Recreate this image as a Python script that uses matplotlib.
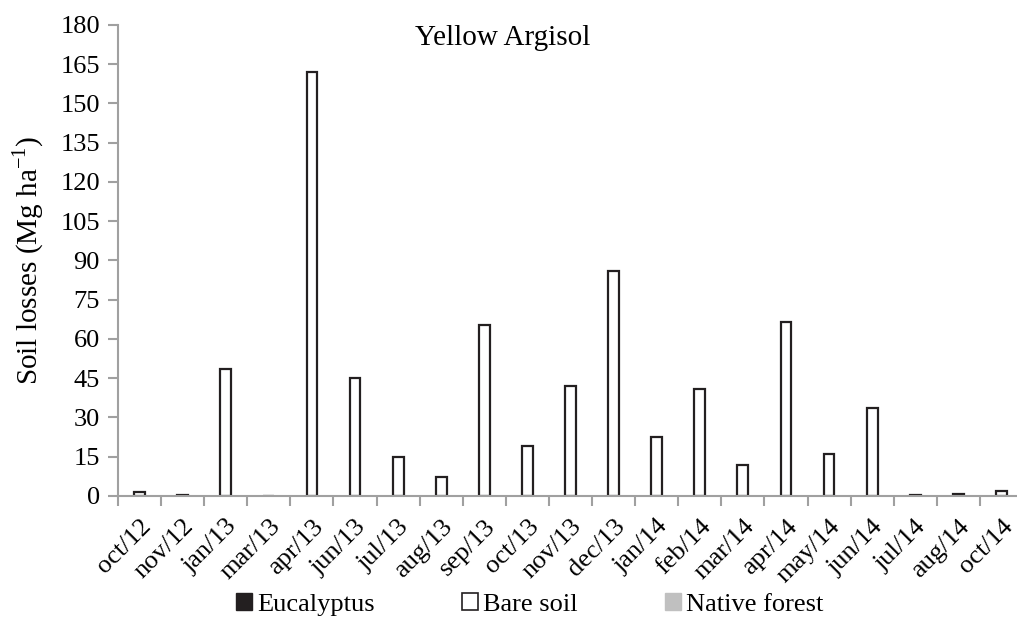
import matplotlib
matplotlib.use("Agg")
import matplotlib.pyplot as plt
from matplotlib.patches import Patch
import numpy as np

months = ["oct/12", "nov/12", "jan/13", "mar/13", "apr/13", "jun/13", "jul/13",
          "aug/13", "sep/13", "oct/13", "nov/13", "dec/13", "jan/14", "feb/14",
          "mar/14", "apr/14", "may/14", "jun/14", "jul/14", "aug/14", "oct/14"]
eucalyptus = [0.0] * 21
bare_soil = [1.5, 0.5, 48.5, 0.1, 162.0, 45.0, 15.0, 7.2, 65.2, 19.0, 42.2, 86.0,
             22.5, 41.0, 12.0, 66.5, 16.2, 33.8, 0.4, 0.8, 1.8]
native_forest = [0.0] * 21
yticks = np.arange(0, 181, 15)

plt.rcParams['font.family'] = ['Liberation Serif', 'DejaVu Serif']
axis_grey = '#a0a0a0'
fs = 19

fig = plt.figure(figsize=(10.17, 6.2), dpi=100)
# plot area runs a bit past the right edge of the picture, like the reference
ax = fig.add_axes([118 / 1017, 0.2, 905 / 1017, 0.7597])

x = np.arange(len(months))
w = 0.25
ax.bar(x - w, eucalyptus, w, color='#231f20', edgecolor='#231f20', linewidth=0)
ax.bar(x, bare_soil, w, color='white', edgecolor='#231f20', linewidth=1.6)
ax.bar(x + w, native_forest, w, color='#c0c0c0', edgecolor='#c0c0c0', linewidth=0)

ax.set_xlim(-0.5, len(months) - 0.5)
ax.set_ylim(0, 180)
ax.set_yticks(yticks)
ax.set_xticks(x)
ax.set_xticklabels(months, rotation=45, ha='right', rotation_mode='anchor', fontsize=fs)
ax.set_xticks(np.arange(-0.5, len(months), 1), minor=True)
ax.tick_params(axis='x', which='major', length=0, pad=14)
ax.tick_params(axis='x', which='minor', length=7, color=axis_grey, width=1.5)
ax.tick_params(axis='y', length=7, color=axis_grey, width=1.5, labelsize=fs, pad=6)

for s in ['top', 'right']:
    ax.spines[s].set_visible(False)
for s in ['left', 'bottom']:
    ax.spines[s].set_color(axis_grey)
    ax.spines[s].set_linewidth(1.5)

ax.set_ylabel("Soil losses (Mg ha$^{\\mathregular{-1}}$)", fontsize=fs + 2, labelpad=10)
ax.text(0.425, 0.972, "Yellow Argisol", transform=ax.transAxes, ha='center', va='center',
        fontsize=fs + 2)

handles = [Patch(facecolor='#231f20', edgecolor='#231f20'),
           Patch(facecolor='white', edgecolor='#231f20', linewidth=1.2),
           Patch(facecolor='#c0c0c0', edgecolor='#c0c0c0')]
fig.legend(handles, ["Eucalyptus", "Bare soil", "Native forest"], loc='center',
           bbox_to_anchor=(0.521, 0.025), ncol=3, frameon=False, fontsize=fs,
           handlelength=0.6, handleheight=0.6, handletextpad=0.2, columnspacing=3.3)

fig.savefig("out.png", dpi=100)
